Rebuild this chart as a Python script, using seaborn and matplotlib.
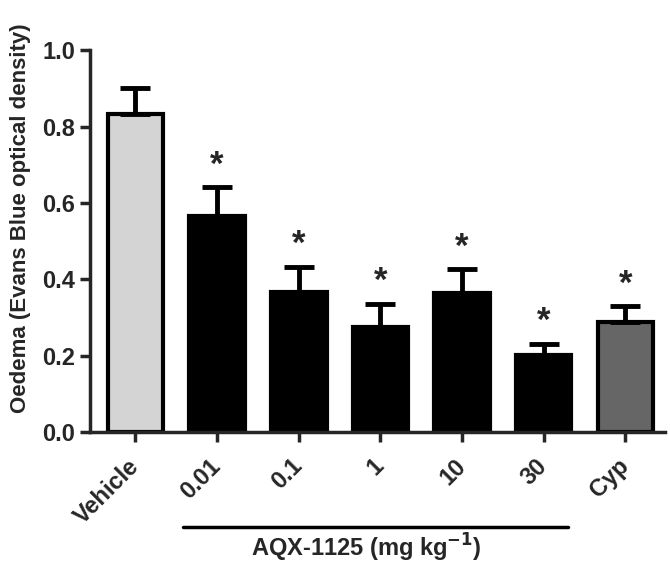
import numpy as np
import pandas as pd
import matplotlib
matplotlib.use("Agg")
import matplotlib.pyplot as plt
import seaborn as sns

# Data
groups = ['Vehicle', '0.01', '0.1', '1', '10', '30', 'Cyp']
means = [0.832, 0.566, 0.368, 0.276, 0.363, 0.203, 0.287]
sems = [0.070, 0.075, 0.065, 0.060, 0.063, 0.028, 0.042]
significant = [False, True, True, True, True, True, True]
bar_colors = ['#d4d4d4', '#000000', '#000000', '#000000', '#000000', '#000000', '#666666']

sns.set_style("ticks")
plt.rcParams['font.family'] = ['Liberation Sans', 'DejaVu Sans']
plt.rcParams['font.weight'] = 'bold'

df = pd.DataFrame({'group': groups, 'mean': means})

fig = plt.figure(figsize=(6.7, 5.64), dpi=100)
ax = fig.add_axes([0.134, 0.234, 0.859, 0.677])

sns.barplot(data=df, x='group', y='mean', hue='group', palette=bar_colors,
            order=groups, legend=False, width=0.68, edgecolor='black',
            linewidth=3, ax=ax, saturation=1)

x = np.arange(len(groups))
ax.errorbar(x, means, yerr=[np.zeros(len(sems)), sems], fmt='none',
            ecolor='black', elinewidth=3.5, capsize=11, capthick=3.5, zorder=1)

# Significance stars
for xi, m, s, sig in zip(x, means, sems, significant):
    if sig:
        ax.annotate('*', xy=(xi, m + s), xytext=(0, 4), textcoords='offset points',
                    ha='center', va='bottom', fontsize=25, fontweight='bold')

ax.set_ylim(0, 1.0)
ax.set_xlim(-0.56, 6.49)
ax.set_yticks([0.0, 0.2, 0.4, 0.6, 0.8, 1.0])
ax.set_yticklabels(['0.0', '0.2', '0.4', '0.6', '0.8', '1.0'])
ax.set_xticks(x)
ax.set_xticklabels(groups, rotation=45, ha='right', va='center', rotation_mode='anchor')
ax.tick_params(axis='both', labelsize=17, width=2.5, length=7, direction='out')
ax.tick_params(axis='x', pad=15)
for t in ax.get_xticklabels() + ax.get_yticklabels():
    t.set_fontweight('bold')

ax.set_xlabel('')
ax.set_ylabel('Oedema (Evans Blue optical density)', fontsize=16, fontweight='bold',
              labelpad=8, y=0.56)

for side in ['top', 'right']:
    ax.spines[side].set_visible(False)
for side in ['left', 'bottom']:
    ax.spines[side].set_linewidth(2.5)

# Group bracket for AQX-1125 doses
fig.add_artist(plt.Line2D([183 / 670, 568 / 670], [1 - 527 / 564, 1 - 527 / 564],
                          color='black', linewidth=2.5))
fig.text(366 / 670, 1 - 548 / 564, 'AQX-1125 (mg kg$^{\\mathbf{-1}}$)', ha='center', va='center',
         fontsize=17, fontweight='bold')

plt.savefig('out.png', dpi=100)
plt.close()
